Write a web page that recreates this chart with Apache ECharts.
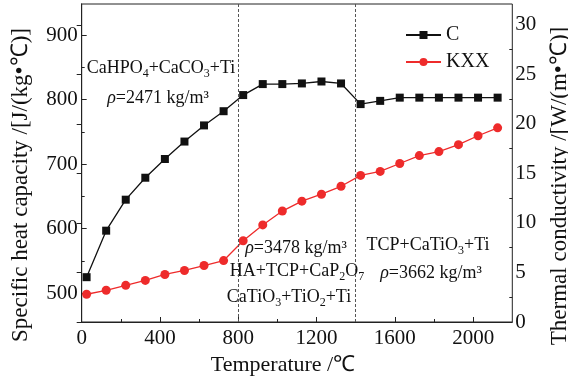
<!DOCTYPE html>
<html>
<head>
<meta charset="utf-8">
<script src="https://cdn.jsdelivr.net/npm/echarts@6/dist/echarts.min.js"></script>
<style>
html,body{margin:0;padding:0;background:#fff;}
#chart{width:568px;height:376px;}
</style>
</head>
<body>
<div id="chart"></div>
<script>
// ---- data ----
var temps = [25, 125, 225, 325, 425, 525, 625, 725, 825, 925, 1025, 1125, 1225, 1325, 1425, 1525, 1625, 1725, 1825, 1925, 2025, 2125];
var heatC = [525, 597, 645, 679, 708, 735, 760, 782, 807, 824, 824, 825, 828, 825, 793, 798, 803, 803, 803, 803, 803, 803];
var condKXX = [2.8, 3.2, 3.7, 4.2, 4.8, 5.2, 5.7, 6.2, 8.2, 9.8, 11.2, 12.2, 12.9, 13.7, 14.8, 15.2, 16.0, 16.8, 17.2, 17.9, 18.8, 19.6];
var seriesNames = ['C', 'KXX'];
var xMajor = [0, 400, 800, 1200, 1600, 2000];
var xMinor = [200, 600, 1000, 1400, 1800];
var leftMajor = [500, 600, 700, 800, 900];
var leftMinor = [550, 650, 750, 850];
var rightMajor = [0, 5, 10, 15, 20, 25, 30];
var rightMinor = [2.5, 7.5, 12.5, 17.5, 22.5, 27.5];
var phaseLines = [800, 1400];

var FONT = '"Liberation Serif", "Times New Roman", serif';
var chart = echarts.init(document.getElementById('chart'), null, {renderer: 'canvas'});

function pairs(xs, ys) { return xs.map(function (x, i) { return [x, ys[i]]; }); }
function plain(v) { return String(v); }

var axisLineStyle = {show: true, lineStyle: {color: '#222', width: 1}};
function minorAxis(base, vals, len) {
  return Object.assign({}, base, {
    name: '',
    axisLine: {show: false},
    axisLabel: {show: false},
    splitLine: {show: false},
    axisTick: {show: true, inside: true, length: len, customValues: vals, lineStyle: {color: '#222', width: 1}}
  });
}

var xBase = {type: 'value', min: 0, max: 2200, position: 'bottom'};
var lBase = {type: 'value', min: 455.6, max: 948, position: 'left'};
var rBase = {type: 'value', min: 0, max: 32.1, position: 'right'};

var richSub = {
  sub: {fontSize: 12, fontFamily: FONT, verticalAlign: 'bottom', lineHeight: 12, fill: '#111'},
  it: {fontSize: 18, fontFamily: FONT, fontStyle: 'italic', fill: '#111'}
};
function note(x, y, text) {
  return {
    type: 'text', x: x, y: y, silent: true,
    style: {text: text, fill: '#111', fontSize: 18, fontFamily: FONT, align: 'center', verticalAlign: 'middle', lineHeight: 24, rich: richSub}
  };
}

var option = {
  animation: false,
  backgroundColor: '#fff',
  grid: {left: 81.7, right: 55.7, top: 4, bottom: 54, show: true, borderColor: '#222', borderWidth: 1,
         containLabel: false, outerBoundsMode: 'none'},
  legend: {
    data: seriesNames, orient: 'vertical', left: 400, top: 20,
    itemWidth: 35, itemHeight: 10, itemGap: 7,
    textStyle: {fontSize: 20, fontFamily: FONT, color: '#111'}
  },
  xAxis: [
    Object.assign({}, xBase, {
      name: 'Temperature /℃', nameLocation: 'middle', nameGap: 27,
      nameTextStyle: {fontSize: 22, fontFamily: FONT, color: '#111', padding: [0, 28, 0, 0]},
      axisLine: axisLineStyle,
      axisTick: {show: true, inside: true, length: 5, customValues: xMajor, lineStyle: {color: '#222'}},
      axisLabel: {customValues: xMajor, formatter: plain, fontSize: 21, fontFamily: FONT, color: '#111', margin: 6},
      splitLine: {show: false}
    }),
    minorAxis(xBase, xMinor, 3)
  ],
  yAxis: [
    Object.assign({}, lBase, {
      name: 'Specific heat capacity /[J/(kg•℃)]', nameLocation: 'middle', nameGap: 49, nameRotate: 90,
      nameTextStyle: {fontSize: 23, fontFamily: FONT, color: '#111', padding: [0, 44, 0, 0]},
      axisLine: axisLineStyle,
      axisTick: {show: true, inside: true, length: 5, customValues: leftMajor, lineStyle: {color: '#222'}},
      axisLabel: {customValues: leftMajor, formatter: plain, fontSize: 21, fontFamily: FONT, color: '#111', margin: 4},
      splitLine: {show: false}
    }),
    Object.assign({}, rBase, {
      name: 'Thermal conductivity /[W/(m•℃)]', nameLocation: 'middle', nameGap: 36, nameRotate: 90,
      nameTextStyle: {fontSize: 23, fontFamily: FONT, color: '#111', padding: [0, 46, 0, 0]},
      axisLine: axisLineStyle,
      axisTick: {show: true, inside: true, length: 5, customValues: rightMajor, lineStyle: {color: '#222'}},
      axisLabel: {customValues: rightMajor, formatter: plain, fontSize: 21, fontFamily: FONT, color: '#111', margin: 3},
      splitLine: {show: false}
    }),
    minorAxis(lBase, leftMinor, 3),
    minorAxis(rBase, rightMinor, 3)
  ],
  series: [
    {
      name: seriesNames[0], type: 'line', xAxisIndex: 0, yAxisIndex: 0,
      data: pairs(temps, heatC),
      symbol: 'rect', symbolSize: 8,
      lineStyle: {color: '#111', width: 1.3},
      itemStyle: {color: '#111'},
      markLine: {
        silent: true, symbol: 'none', label: {show: false},
        lineStyle: {color: '#555', width: 1, type: [3, 2]},
        data: phaseLines.map(function (v) { return {xAxis: v}; })
      }
    },
    {
      name: seriesNames[1], type: 'line', xAxisIndex: 0, yAxisIndex: 1,
      data: pairs(temps, condKXX),
      symbol: 'circle', symbolSize: 9,
      lineStyle: {color: '#ee2b2b', width: 1.3},
      itemStyle: {color: '#ee2b2b'}
    }
  ],
  graphic: [
    note(161, 68, 'CaHPO{sub|4}+CaCO{sub|3}+Ti'),
    note(158, 98, '{it|ρ}=2471 kg/m³'),
    note(296, 248, '{it|ρ}=3478 kg/m³'),
    note(297, 271, 'HA+TCP+CaP{sub|2}O{sub|7}'),
    note(289, 297, 'CaTiO{sub|3}+TiO{sub|2}+Ti'),
    note(428, 245, 'TCP+CaTiO{sub|3}+Ti'),
    note(431, 273, '{it|ρ}=3662 kg/m³')
  ]
};
chart.setOption(option);
</script>
</body>
</html>
